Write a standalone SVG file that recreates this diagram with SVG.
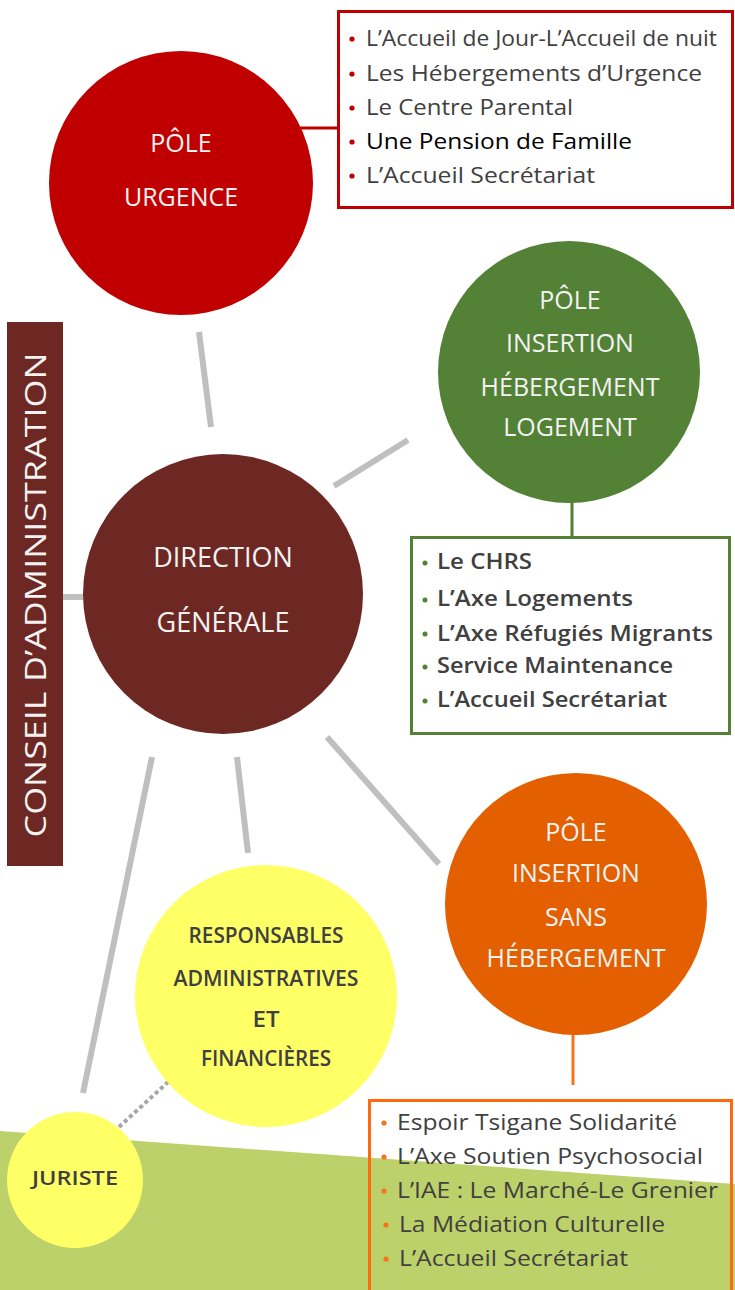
<svg xmlns="http://www.w3.org/2000/svg" width="735" height="1290" viewBox="0 0 735 1290">
<style>
.ct{font-family:"Open Sans","Noto Sans",sans-serif;fill:#F2F2F2;text-anchor:middle;font-size:25px;font-weight:500}
.li{font-family:"Open Sans","Noto Sans",sans-serif;fill:#404040;font-size:21px;font-weight:500}
.lg{font-family:"Open Sans","Noto Sans",sans-serif;fill:#404040;font-size:21px;font-weight:600}
.yt{font-family:"Open Sans","Noto Sans",sans-serif;fill:#404040;text-anchor:middle;font-size:21px;font-weight:600}
.con{stroke:#BFBFBF;stroke-width:6;fill:none}
</style>
<rect x="0" y="0" width="735" height="1290" fill="#FFFFFF"/>
<polygon points="0,1131 735,1184 735,1290 0,1290" fill="#BDD16A"/>

<g id="connectors">
<line class="con" x1="63" y1="597" x2="85" y2="597"/>
<line class="con" x1="199" y1="332" x2="211" y2="427"/>
<line class="con" x1="334" y1="486" x2="408" y2="440"/>
<line class="con" x1="327" y1="737" x2="439" y2="864"/>
<line class="con" x1="237" y1="757" x2="248" y2="853"/>
<line class="con" x1="152" y1="757" x2="83" y2="1093"/>
<line x1="119" y1="1127" x2="168" y2="1082" stroke="#A6A6A6" stroke-width="4" stroke-dasharray="4 3"/>
<line x1="300" y1="128" x2="338" y2="128" stroke="#C00000" stroke-width="3"/>
<line x1="572" y1="500" x2="572" y2="537" stroke="#538135" stroke-width="3"/>
<line x1="573" y1="1030" x2="573" y2="1085" stroke="#F7731E" stroke-width="3"/>
</g>

<g id="conseil">
<rect x="7" y="322" width="56" height="544" fill="#6E2823"/>
<text transform="translate(46,595) rotate(-90)" font-family="Open Sans, Noto Sans, sans-serif" font-size="30" font-weight="500" fill="#F2F2F2" text-anchor="middle" textLength="485" lengthAdjust="spacingAndGlyphs">CONSEIL D’ADMINISTRATION</text>
</g>

<g id="pole-urgence">
<circle cx="181" cy="183" r="132" fill="#C00000"/>
<text class="ct" x="181" y="152">PÔLE</text>
<text class="ct" x="181" y="206">URGENCE</text>
</g>

<g id="urgence-list">
<rect x="338.5" y="11.5" width="394" height="196" fill="#FFFFFF" stroke="#C00000" stroke-width="3"/>
<g fill="#C00000">
<circle cx="352" cy="39" r="2.6"/><circle cx="352" cy="74" r="2.6"/><circle cx="352" cy="108" r="2.6"/><circle cx="352" cy="142" r="2.6"/><circle cx="352" cy="176" r="2.6"/>
</g>
<text class="li" x="366" y="46" textLength="351" lengthAdjust="spacingAndGlyphs">L’Accueil de Jour-L’Accueil de nuit</text>
<text class="li" x="366" y="81" textLength="336" lengthAdjust="spacingAndGlyphs">Les Hébergements d’Urgence</text>
<text class="li" x="366" y="115" textLength="207" lengthAdjust="spacingAndGlyphs">Le Centre Parental</text>
<text class="li" x="366" y="149" textLength="266" lengthAdjust="spacingAndGlyphs" style="fill:#000000">Une Pension de Famille</text>
<text class="li" x="366" y="183" textLength="229" lengthAdjust="spacingAndGlyphs">L’Accueil Secrétariat</text>
</g>

<g id="pole-insertion-hebergement">
<circle cx="569" cy="372" r="131" fill="#538135"/>
<text class="ct" x="570" y="309">PÔLE</text>
<text class="ct" x="570" y="352">INSERTION</text>
<text class="ct" x="570" y="396">HÉBERGEMENT</text>
<text class="ct" x="570" y="436">LOGEMENT</text>
</g>

<g id="insertion-list">
<rect x="411.5" y="537.5" width="318" height="196" fill="#FFFFFF" stroke="#538135" stroke-width="3"/>
<g fill="#538135">
<circle cx="425" cy="563" r="2.5"/><circle cx="425" cy="600" r="2.5"/><circle cx="425" cy="634" r="2.5"/><circle cx="425" cy="667" r="2.5"/><circle cx="425" cy="701" r="2.5"/>
</g>
<text class="lg" x="437" y="569" textLength="95" lengthAdjust="spacingAndGlyphs">Le CHRS</text>
<text class="lg" x="437" y="606" textLength="196" lengthAdjust="spacingAndGlyphs">L’Axe Logements</text>
<text class="lg" x="437" y="641" textLength="276" lengthAdjust="spacingAndGlyphs">L’Axe Réfugiés Migrants</text>
<text class="lg" x="437" y="673" textLength="236" lengthAdjust="spacingAndGlyphs">Service Maintenance</text>
<text class="lg" x="437" y="707" textLength="230" lengthAdjust="spacingAndGlyphs">L’Accueil Secrétariat</text>
</g>

<g id="direction-generale">
<circle cx="223" cy="594" r="140" fill="#6E2823"/>
<text class="ct" x="223" y="567" style="font-size:27px">DIRECTION</text>
<text class="ct" x="223" y="632" style="font-size:27px">GÉNÉRALE</text>
</g>

<g id="pole-insertion-sans">
<circle cx="576" cy="904" r="131" fill="#E35F00"/>
<text class="ct" x="576" y="841">PÔLE</text>
<text class="ct" x="576" y="882">INSERTION</text>
<text class="ct" x="576" y="926">SANS</text>
<text class="ct" x="576" y="967">HÉBERGEMENT</text>
</g>

<g id="sans-list">
<rect x="369.5" y="1100.5" width="362" height="200" fill="none" stroke="#FF6A10" stroke-width="3"/>
<g fill="#F7731E">
<circle cx="384" cy="1123" r="2.6"/><circle cx="384" cy="1157" r="2.6"/><circle cx="384" cy="1191" r="2.6"/><circle cx="386" cy="1225" r="2.6"/><circle cx="386" cy="1259" r="2.6"/>
</g>
<text class="li" x="397" y="1130" textLength="280" lengthAdjust="spacingAndGlyphs">Espoir Tsigane Solidarité</text>
<text class="li" x="397" y="1164" textLength="306" lengthAdjust="spacingAndGlyphs">L’Axe Soutien Psychosocial</text>
<text class="li" x="397" y="1198" textLength="321" lengthAdjust="spacingAndGlyphs">L’IAE : Le Marché-Le Grenier</text>
<text class="li" x="399" y="1232" textLength="266" lengthAdjust="spacingAndGlyphs">La Médiation Culturelle</text>
<text class="li" x="399" y="1266" textLength="229" lengthAdjust="spacingAndGlyphs">L’Accueil Secrétariat</text>
</g>

<g id="responsables">
<circle cx="266" cy="996" r="131" fill="#FFFF66"/>
<text class="yt" x="266" y="943" textLength="155" lengthAdjust="spacingAndGlyphs">RESPONSABLES</text>
<text class="yt" x="266" y="986" textLength="185" lengthAdjust="spacingAndGlyphs">ADMINISTRATIVES</text>
<text class="yt" x="266" y="1027" textLength="27" lengthAdjust="spacingAndGlyphs">ET</text>
<text class="yt" x="266" y="1066" textLength="130" lengthAdjust="spacingAndGlyphs">FINANCIÈRES</text>
</g>

<g id="juriste">
<circle cx="75" cy="1180" r="68" fill="#FFFF66"/>
<text x="75" y="1185" font-family="Open Sans, Noto Sans, sans-serif" font-size="20" font-weight="600" fill="#404040" text-anchor="middle" textLength="86" lengthAdjust="spacingAndGlyphs">JURISTE</text>
</g>
</svg>
